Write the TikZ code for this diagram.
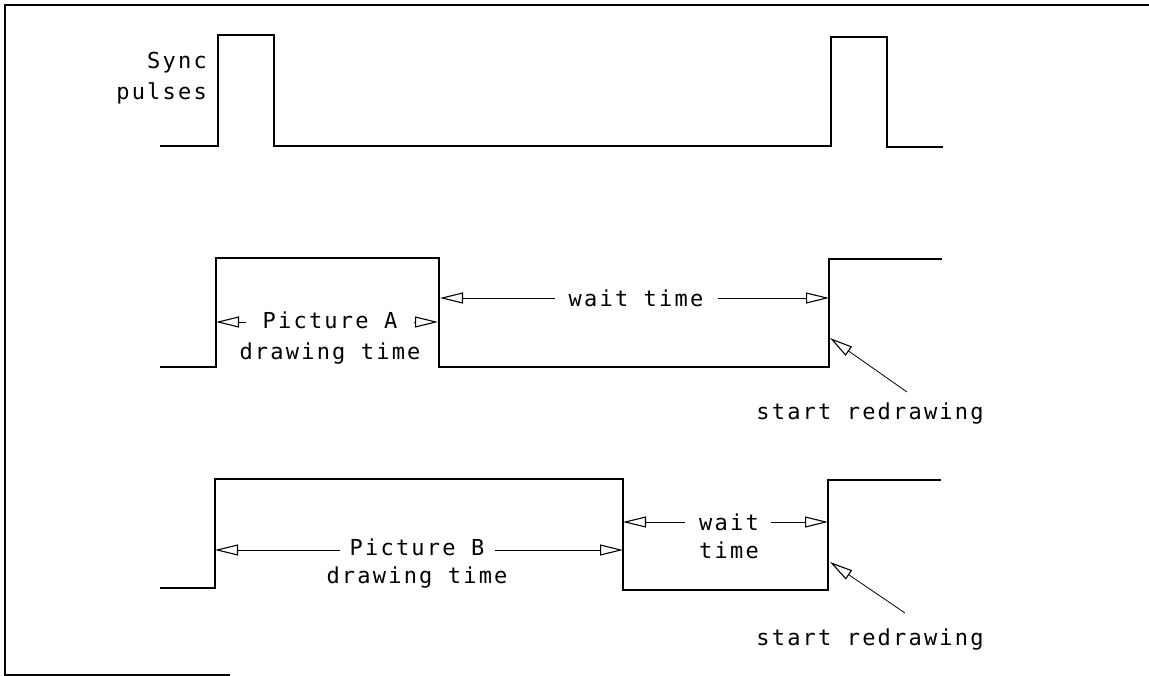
\documentclass[tikz,border=0pt]{standalone}
\usepackage{fontspec}
\setmonofont[LetterSpace=10]{DejaVu Sans Mono}
\usetikzlibrary{arrows.meta}
\tikzset{
  wave/.style={line width=2.6pt, line join=miter},
  frame/.style={line width=1.8pt},
  dim/.style={line width=0.8pt, -{Triangle[open, length=23pt, width=11pt, line width=1.1pt]}},
  lbl/.style={font=\ttfamily\fontsize{22}{31}\selectfont, inner sep=0pt, align=center},
}
\begin{document}
\begin{tikzpicture}[x=1pt,y=-1pt]
\useasboundingbox (0,0) rectangle (1149,676);
% frame
\draw[frame] (1149,5) -- (5,5) -- (5,675) -- (230,675);
% sync pulses
\draw[wave] (160,146) -- (218,146) -- (218,35) -- (274,35) -- (274,146) -- (831,146) -- (831,37) -- (887,37) -- (887,147) -- (943,147);
\node[lbl, align=right, anchor=east] (sync) at (207,78) {Sync\\pulses};
% waveform A
\draw[wave] (160,367) -- (216,367) -- (216,258) -- (439,258) -- (439,367) -- (829,367) -- (829,259) -- (942,259);
% waveform B
\draw[wave] (160,588) -- (215,588) -- (215,479) -- (623,479) -- (623,590) -- (828,590) -- (828,480) -- (941,480);
% labels
\node[lbl] (picA) at (330,338) {Picture A\\drawing time};
\node[lbl] (waitA) at (636,298) {wait time};
\node[lbl] (redrawA) at (870,414) {start redrawing};
\node[lbl, font=\ttfamily\fontsize{22}{28}\selectfont] (picB) at (417,564) {Picture B\\drawing time};
\node[lbl, font=\ttfamily\fontsize{22}{28}\selectfont] (waitB) at (729,536) {wait\\time};
\node[lbl] (redrawB) at (870,640) {start redrawing};
% coordinates for dimension arrows
\coordinate (pAl) at (216,322); \coordinate (pAls) at (246,322);
\coordinate (pAr) at (438,322); \coordinate (pArs) at (414,322);
\coordinate (wAl) at (440,298); \coordinate (wAls) at (555,298);
\coordinate (wAr) at (829,298); \coordinate (wArs) at (718,298);
\coordinate (rAt) at (830,338); \coordinate (rAs) at (907,392);
\coordinate (pBl) at (215,550); \coordinate (pBls) at (340,550);
\coordinate (pBr) at (623,550); \coordinate (pBrs) at (495,550);
\coordinate (wBl) at (623,522); \coordinate (wBls) at (685,522);
\coordinate (wBr) at (828,522); \coordinate (wBrs) at (771,522);
\coordinate (rBt) at (830,562); \coordinate (rBs) at (905,613);
\draw[dim] (pAls) -- (pAl);
\draw[dim] (pArs) -- (pAr);
\draw[dim] (wAls) -- (wAl);
\draw[dim] (wArs) -- (wAr);
\draw[dim] (rAs) -- (rAt);
\draw[dim] (pBls) -- (pBl);
\draw[dim] (pBrs) -- (pBr);
\draw[dim] (wBls) -- (wBl);
\draw[dim] (wBrs) -- (wBr);
\draw[dim] (rBs) -- (rBt);
\end{tikzpicture}
\end{document}
